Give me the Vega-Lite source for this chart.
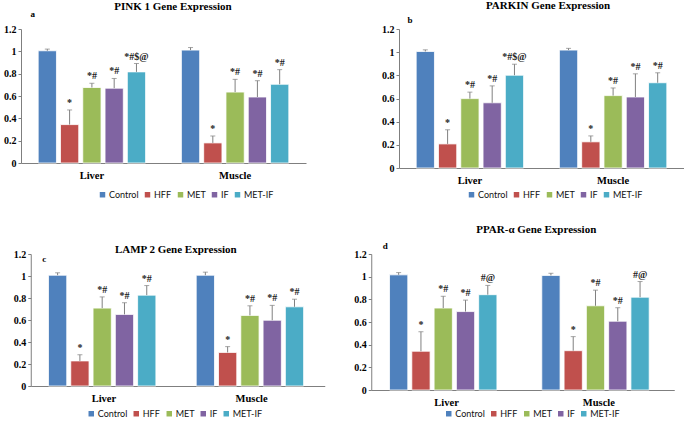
{
  "$schema": "https://vega.github.io/schema/vega-lite/v6.json",
  "padding": {"left": 3, "top": 0, "right": 0, "bottom": 0},
  "background": "white",
  "data": {"values": [
    {"panel":"a","tissue":"Liver","group":"Control","value":1.005,"err":1.02,"label":""},
    {"panel":"a","tissue":"Liver","group":"HFF","value":0.344,"err":0.475,"label":"*"},
    {"panel":"a","tissue":"Liver","group":"MET","value":0.676,"err":0.714,"label":"*#"},
    {"panel":"a","tissue":"Liver","group":"IF","value":0.67,"err":0.757,"label":"*#"},
    {"panel":"a","tissue":"Liver","group":"MET-IF","value":0.816,"err":0.891,"label":"*#$@"},
    {"panel":"a","tissue":"Muscle","group":"Control","value":1.011,"err":1.034,"label":""},
    {"panel":"a","tissue":"Muscle","group":"HFF","value":0.18,"err":0.242,"label":"*"},
    {"panel":"a","tissue":"Muscle","group":"MET","value":0.635,"err":0.749,"label":"*#"},
    {"panel":"a","tissue":"Muscle","group":"IF","value":0.591,"err":0.737,"label":"*#"},
    {"panel":"a","tissue":"Muscle","group":"MET-IF","value":0.705,"err":0.836,"label":"*#"},
    {"panel":"b","tissue":"Liver","group":"Control","value":1.006,"err":1.02,"label":""},
    {"panel":"b","tissue":"Liver","group":"HFF","value":0.208,"err":0.33,"label":"*"},
    {"panel":"b","tissue":"Liver","group":"MET","value":0.599,"err":0.655,"label":"*#"},
    {"panel":"b","tissue":"Liver","group":"IF","value":0.563,"err":0.709,"label":"*#"},
    {"panel":"b","tissue":"Liver","group":"MET-IF","value":0.801,"err":0.896,"label":"*#$@"},
    {"panel":"b","tissue":"Muscle","group":"Control","value":1.018,"err":1.033,"label":""},
    {"panel":"b","tissue":"Muscle","group":"HFF","value":0.226,"err":0.277,"label":"*"},
    {"panel":"b","tissue":"Muscle","group":"MET","value":0.625,"err":0.691,"label":"*#"},
    {"panel":"b","tissue":"Muscle","group":"IF","value":0.613,"err":0.813,"label":"*#"},
    {"panel":"b","tissue":"Muscle","group":"MET-IF","value":0.736,"err":0.822,"label":"*#"},
    {"panel":"c","tissue":"Liver","group":"Control","value":1.007,"err":1.029,"label":""},
    {"panel":"c","tissue":"Liver","group":"HFF","value":0.228,"err":0.284,"label":"*"},
    {"panel":"c","tissue":"Liver","group":"MET","value":0.708,"err":0.81,"label":"*#"},
    {"panel":"c","tissue":"Liver","group":"IF","value":0.651,"err":0.757,"label":"*#"},
    {"panel":"c","tissue":"Liver","group":"MET-IF","value":0.826,"err":0.913,"label":"*#"},
    {"panel":"c","tissue":"Muscle","group":"Control","value":1.007,"err":1.035,"label":""},
    {"panel":"c","tissue":"Muscle","group":"HFF","value":0.305,"err":0.358,"label":"*"},
    {"panel":"c","tissue":"Muscle","group":"MET","value":0.642,"err":0.729,"label":"*#"},
    {"panel":"c","tissue":"Muscle","group":"IF","value":0.598,"err":0.733,"label":"*#"},
    {"panel":"c","tissue":"Muscle","group":"MET-IF","value":0.72,"err":0.789,"label":"*#"},
    {"panel":"d","tissue":"Liver","group":"Control","value":1.016,"err":1.036,"label":""},
    {"panel":"d","tissue":"Liver","group":"HFF","value":0.342,"err":0.514,"label":"*"},
    {"panel":"d","tissue":"Liver","group":"MET","value":0.723,"err":0.827,"label":"*#"},
    {"panel":"d","tissue":"Liver","group":"IF","value":0.692,"err":0.793,"label":"*#"},
    {"panel":"d","tissue":"Liver","group":"MET-IF","value":0.841,"err":0.923,"label":"#@"},
    {"panel":"d","tissue":"Muscle","group":"Control","value":1.011,"err":1.03,"label":""},
    {"panel":"d","tissue":"Muscle","group":"HFF","value":0.347,"err":0.471,"label":"*"},
    {"panel":"d","tissue":"Muscle","group":"MET","value":0.743,"err":0.881,"label":"*#"},
    {"panel":"d","tissue":"Muscle","group":"IF","value":0.607,"err":0.726,"label":"*#"},
    {"panel":"d","tissue":"Muscle","group":"MET-IF","value":0.819,"err":0.957,"label":"#@"}
  ]},
  "spacing": 24,
  "center": true,
  "resolve": {"legend": {"color": "independent"}, "scale": {"color": "independent"}},
  "vconcat": [
    {
      "spacing": 75,
      "resolve": {"legend": {"color": "independent"}, "scale": {"color": "independent"}},
      "hconcat": [
        {
          "width": 285, "height": 134,
          "title": {"text": "PINK 1 Gene Expression", "dx": 9.5, "offset": -3},
          "transform": [{"filter": "datum.panel == 'a'"}],
          "encoding": {
            "x": {"field": "tissue", "type": "nominal", "sort": ["Liver", "Muscle"], "scale": {"paddingInner": 0.25, "paddingOuter": 0.12}, "axis": {"title": null}},
            "xOffset": {"field": "group", "type": "nominal", "sort": ["Control", "HFF", "MET", "IF", "MET-IF"], "scale": {"paddingInner": 0.18}}
          },
          "layer": [
            {"mark": {"type": "bar", "stroke": "white", "strokeWidth": 0.8},
             "encoding": {
               "y": {"field": "value", "type": "quantitative", "scale": {"domain": [0, 1.2]}, "axis": {"title": "a", "titleX": 9, "titleY": -16}},
               "color": {"field": "group", "type": "nominal", "scale": {"domain": ["Control", "HFF", "MET", "IF", "MET-IF"], "range": ["#4F81BD", "#C0504D", "#9BBB59", "#8064A2", "#4BACC6"]}, "legend": {"legendX": 77, "legendY": 161}}
             }},
            {"mark": {"type": "rule", "color": "#808080", "strokeWidth": 1}, "encoding": {"y": {"field": "value", "type": "quantitative"}, "y2": {"field": "err"}}},
            {"mark": {"type": "tick", "color": "#808080", "size": 5, "thickness": 1}, "encoding": {"y": {"field": "err", "type": "quantitative"}}},
            {"mark": {"type": "text", "baseline": "bottom", "dy": -2, "font": "Liberation Serif", "fontWeight": "bold", "fontSize": 10, "color": "#222"}, "encoding": {"y": {"field": "err", "type": "quantitative"}, "text": {"field": "label"}}}
          ]
        },
        {
          "width": 285, "height": 139,
          "title": {"text": "PARKIN Gene Expression", "dx": 6.5, "offset": 4},
          "transform": [{"filter": "datum.panel == 'b'"}],
          "encoding": {
            "x": {"field": "tissue", "type": "nominal", "sort": ["Liver", "Muscle"], "scale": {"paddingInner": 0.25, "paddingOuter": 0.12}, "axis": {"title": null}},
            "xOffset": {"field": "group", "type": "nominal", "sort": ["Control", "HFF", "MET", "IF", "MET-IF"], "scale": {"paddingInner": 0.18}}
          },
          "layer": [
            {"mark": {"type": "bar", "stroke": "white", "strokeWidth": 0.8},
             "encoding": {
               "y": {"field": "value", "type": "quantitative", "scale": {"domain": [0, 1.2]}, "axis": {"title": "b", "titleX": 8, "titleY": -10}},
               "color": {"field": "group", "type": "nominal", "scale": {"domain": ["Control", "HFF", "MET", "IF", "MET-IF"], "range": ["#4F81BD", "#C0504D", "#9BBB59", "#8064A2", "#4BACC6"]}, "legend": {"legendX": 68, "legendY": 161}}
             }},
            {"mark": {"type": "rule", "color": "#808080", "strokeWidth": 1}, "encoding": {"y": {"field": "value", "type": "quantitative"}, "y2": {"field": "err"}}},
            {"mark": {"type": "tick", "color": "#808080", "size": 5, "thickness": 1}, "encoding": {"y": {"field": "err", "type": "quantitative"}}},
            {"mark": {"type": "text", "baseline": "bottom", "dy": -2, "font": "Liberation Serif", "fontWeight": "bold", "fontSize": 10, "color": "#222"}, "encoding": {"y": {"field": "err", "type": "quantitative"}, "text": {"field": "label"}}}
          ]
        }
      ]
    },
    {
      "spacing": 28.5,
      "resolve": {"legend": {"color": "independent"}, "scale": {"color": "independent"}},
      "hconcat": [
        {
          "width": 294, "height": 132,
          "title": {"text": "LAMP 2 Gene Expression", "dx": -2, "offset": -5.5},
          "transform": [{"filter": "datum.panel == 'c'"}],
          "encoding": {
            "x": {"field": "tissue", "type": "nominal", "sort": ["Liver", "Muscle"], "scale": {"paddingInner": 0.25, "paddingOuter": 0.12}, "axis": {"title": null}},
            "xOffset": {"field": "group", "type": "nominal", "sort": ["Control", "HFF", "MET", "IF", "MET-IF"], "scale": {"paddingInner": 0.18}}
          },
          "layer": [
            {"mark": {"type": "bar", "stroke": "white", "strokeWidth": 0.8},
             "encoding": {
               "y": {"field": "value", "type": "quantitative", "scale": {"domain": [0, 1.2]}, "axis": {"title": "c", "titleX": 11, "titleY": 4, "minExtent": 22}},
               "color": {"field": "group", "type": "nominal", "scale": {"domain": ["Control", "HFF", "MET", "IF", "MET-IF"], "range": ["#4F81BD", "#C0504D", "#9BBB59", "#8064A2", "#4BACC6"]}, "legend": {"legendX": 56, "legendY": 155}}
             }},
            {"mark": {"type": "rule", "color": "#808080", "strokeWidth": 1}, "encoding": {"y": {"field": "value", "type": "quantitative"}, "y2": {"field": "err"}}},
            {"mark": {"type": "tick", "color": "#808080", "size": 5, "thickness": 1}, "encoding": {"y": {"field": "err", "type": "quantitative"}}},
            {"mark": {"type": "text", "baseline": "bottom", "dy": -2, "font": "Liberation Serif", "fontWeight": "bold", "fontSize": 10, "color": "#222"}, "encoding": {"y": {"field": "err", "type": "quantitative"}, "text": {"field": "label"}}}
          ]
        },
        {
          "width": 303, "height": 136,
          "title": {"text": "PPAR-α Gene Expression", "dx": 13.5, "offset": 6},
          "transform": [{"filter": "datum.panel == 'd'"}],
          "encoding": {
            "x": {"field": "tissue", "type": "nominal", "sort": ["Liver", "Muscle"], "scale": {"paddingInner": 0.25, "paddingOuter": 0.12}, "axis": {"title": null}},
            "xOffset": {"field": "group", "type": "nominal", "sort": ["Control", "HFF", "MET", "IF", "MET-IF"], "scale": {"paddingInner": 0.18}}
          },
          "layer": [
            {"mark": {"type": "bar", "stroke": "white", "strokeWidth": 0.8},
             "encoding": {
               "y": {"field": "value", "type": "quantitative", "scale": {"domain": [0, 1.2]}, "axis": {"title": "d", "titleX": 11, "titleY": -9}},
               "color": {"field": "group", "type": "nominal", "scale": {"domain": ["Control", "HFF", "MET", "IF", "MET-IF"], "range": ["#4F81BD", "#C0504D", "#9BBB59", "#8064A2", "#4BACC6"]}, "legend": {"legendX": 73, "legendY": 155}}
             }},
            {"mark": {"type": "rule", "color": "#808080", "strokeWidth": 1}, "encoding": {"y": {"field": "value", "type": "quantitative"}, "y2": {"field": "err"}}},
            {"mark": {"type": "tick", "color": "#808080", "size": 5, "thickness": 1}, "encoding": {"y": {"field": "err", "type": "quantitative"}}},
            {"mark": {"type": "text", "baseline": "bottom", "dy": -2, "font": "Liberation Serif", "fontWeight": "bold", "fontSize": 10, "color": "#222"}, "encoding": {"y": {"field": "err", "type": "quantitative"}, "text": {"field": "label"}}}
          ]
        }
      ]
    }
  ],
  "config": {
    "view": {"stroke": null},
    "title": {"font": "Liberation Serif", "fontSize": 11, "fontWeight": "bold", "color": "#000", "frame": "group", "anchor": "middle"},
    "axisX": {"domainColor": "#7f7f7f", "domainWidth": 1, "ticks": false, "labelAngle": 0, "labelFont": "Liberation Serif", "labelFontSize": 10.5, "labelFontWeight": "bold", "labelColor": "#000", "labelPadding": 7, "grid": false},
    "axisY": {"values": [0, 0.2, 0.4, 0.6, 0.8, 1, 1.2], "format": "~g", "domainColor": "#7f7f7f", "tickColor": "#7f7f7f", "tickSize": 3, "labelFont": "Liberation Serif", "labelFontSize": 10, "labelFontWeight": "bold", "labelColor": "#000", "labelPadding": 2, "grid": false, "titleAngle": 0, "titleAlign": "left", "titleBaseline": "middle", "titleFont": "Liberation Serif", "titleFontSize": 9, "titleFontWeight": "bold", "titleColor": "#000"},
    "legend": {"orient": "none", "direction": "horizontal", "title": null, "symbolType": "square", "symbolSize": 30, "symbolStrokeWidth": 0, "labelFont": "Lato", "labelFontSize": 9, "labelColor": "#111", "columnPadding": 4, "symbolOffset": 0, "labelOffset": 2}
  }
}
